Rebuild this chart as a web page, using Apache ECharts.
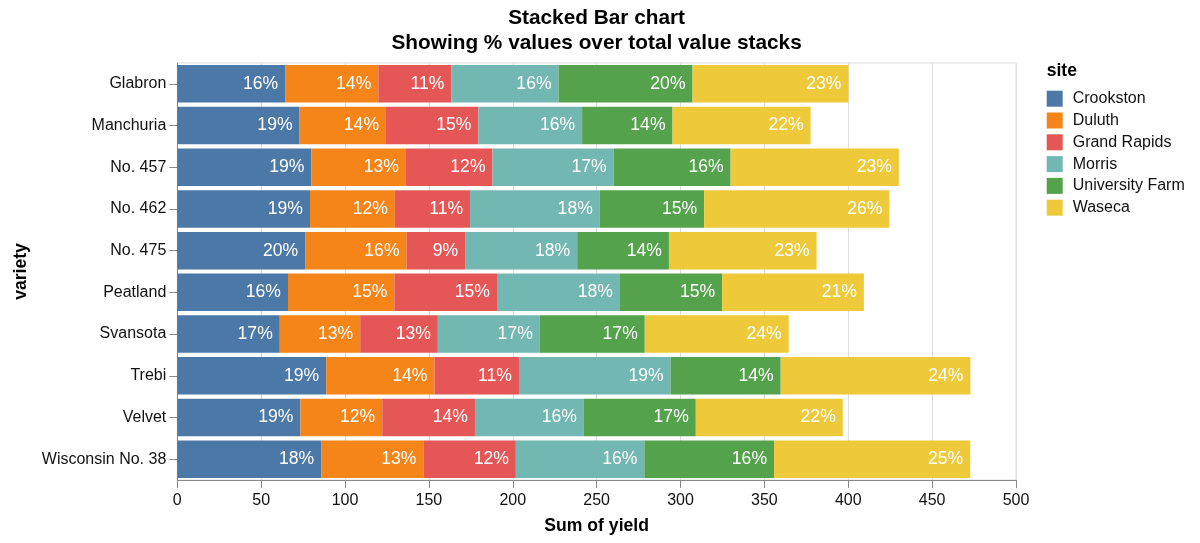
<!DOCTYPE html>
<html>
<head>
<meta charset="utf-8">
<script src="https://cdn.jsdelivr.net/npm/echarts@6/dist/echarts.min.js"></script>
<style>
html,body{margin:0;padding:0;background:#fff;}
#chart{width:1200px;height:543px;}
</style>
</head>
<body>
<div id="chart"></div>
<script>
const varieties = ['Glabron','Manchuria','No. 457','No. 462','No. 475','Peatland','Svansota','Trebi','Velvet','Wisconsin No. 38'];
const sites = ['Crookston','Duluth','Grand Rapids','Morris','University Farm','Waseca'];
const crookston     = [64.30, 72.90, 80.00, 79.10, 76.23, 66.00, 61.10, 88.77, 73.40, 85.77];
const duluth        = [55.53, 51.53, 56.30, 50.60, 60.43, 63.40, 47.93, 64.53, 48.77, 60.93];
const grandRapids   = [43.57, 55.10, 51.63, 44.83, 34.93, 61.20, 46.30, 50.40, 55.27, 55.13];
const morris        = [63.90, 61.80, 72.23, 77.37, 66.83, 73.30, 60.80, 90.40, 64.97, 76.63];
const universityFarm= [79.87, 53.90, 69.70, 62.17, 54.67, 60.90, 62.57, 65.63, 66.70, 77.30];
const waseca        = [92.93, 82.33,100.30,110.47, 88.03, 84.50, 85.83,113.07, 87.63,116.97];
const xTicks = [0,50,100,150,200,250,300,350,400,450,500];

const seriesValues = [crookston, duluth, grandRapids, morris, universityFarm, waseca];
const colors = ['#4c78a8','#f58518','#e45756','#72b7b2','#54a24b','#eeca3b'];
const totals = varieties.map((v,i)=>seriesValues.reduce((s,arr)=>s+arr[i],0));
const FONT = '"Liberation Sans", Arial, Helvetica, sans-serif';

const chart = echarts.init(document.getElementById('chart'), null, {renderer:'canvas'});
chart.setOption({
  animation:false,
  textStyle:{fontFamily:FONT},
  title:{
    text:'Stacked Bar chart\nShowing % values over total value stacks',
    left:596.6, top:6, padding:0, textAlign:'center',
    textStyle:{fontFamily:FONT,fontSize:20.8,fontWeight:'bold',color:'#000',lineHeight:25}
  },
  graphic:[{
    type:'text', left:1046.7, top:62,
    style:{text:'site',fontFamily:FONT,fontSize:17.6,fontWeight:'bold',fill:'#000'}
  }],
  legend:{
    orient:'vertical', left:1046.7, top:90.7, padding:0,
    itemWidth:16, itemHeight:16, itemGap:5.8, icon:'rect',
    textStyle:{fontFamily:FONT,fontSize:16,color:'#111',lineHeight:16,padding:[0,0,0,5]},
    data:sites
  },
  grid:{left:177.3,right:184,top:63,bottom:63,show:true,borderColor:'#ddd',borderWidth:1,containLabel:false},
  xAxis:{
    type:'value', min:0, max:500, interval:50,
    name:'Sum of yield', nameLocation:'middle', nameGap:37,
    nameTextStyle:{fontFamily:FONT,fontSize:17.6,fontWeight:'bold',color:'#000'},
    axisLine:{show:true,lineStyle:{color:'#888'}},
    axisTick:{show:true,length:8,lineStyle:{color:'#888'}},
    axisLabel:{fontFamily:FONT,fontSize:16,color:'#111',margin:13,
      formatter:v=>xTicks.includes(v)?String(v):''},
    splitLine:{show:true,lineStyle:{color:'#ddd'}}
  },
  yAxis:{
    type:'category', data:varieties, inverse:true,
    name:'variety', nameLocation:'middle', nameGap:147, nameRotate:90,
    nameTextStyle:{fontFamily:FONT,fontSize:17.6,fontWeight:'bold',color:'#000'},
    axisLine:{show:true,lineStyle:{color:'#888'}},
    axisTick:{show:true,length:8,alignWithLabel:true,lineStyle:{color:'#888'}},
    axisLabel:{fontFamily:FONT,fontSize:16,color:'#111',margin:11},
    splitLine:{show:false}
  },
  series: sites.map((s,k)=>({
    name:s, type:'bar', stack:'total', barCategoryGap:'10%',
    itemStyle:{color:colors[k]},
    label:{show:true,position:'insideRight',distance:7,color:'#fff',
      fontFamily:FONT,fontSize:17.6,
      formatter:p=>Math.round(p.value/totals[p.dataIndex]*100)+'%'},
    data:seriesValues[k]
  }))
});
</script>
</body>
</html>
